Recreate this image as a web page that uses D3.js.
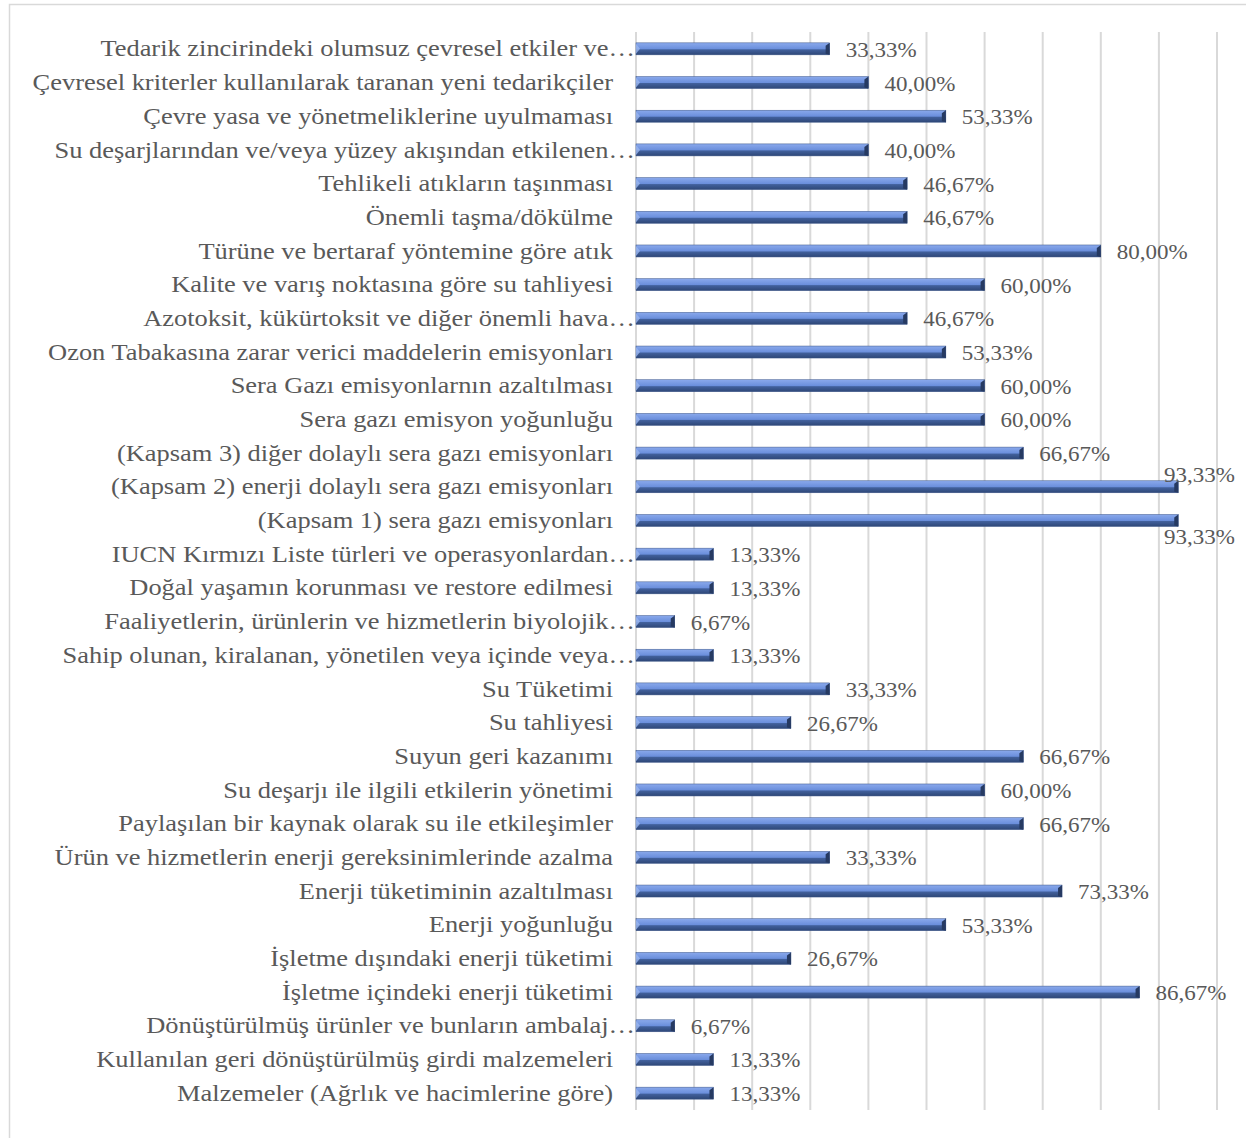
<!DOCTYPE html>
<html>
<head>
<meta charset="utf-8">
<script src="https://cdn.jsdelivr.net/npm/d3@7"></script>
<style>
  body { margin: 0; background: #fff; }
  text { font-family: "Liberation Serif", "Times New Roman", serif; fill: #595959; }
</style>
</head>
<body>
<div id="chart"></div>
<script>
const categories = [
  "Tedarik zincirindeki olumsuz çevresel etkiler ve…",
  "Çevresel kriterler kullanılarak taranan yeni tedarikçiler",
  "Çevre yasa ve yönetmeliklerine uyulmaması",
  "Su deşarjlarından ve/veya yüzey akışından etkilenen…",
  "Tehlikeli atıkların taşınması",
  "Önemli taşma/dökülme",
  "Türüne ve bertaraf yöntemine göre atık",
  "Kalite ve varış noktasına göre su tahliyesi",
  "Azotoksit, kükürtoksit ve diğer önemli hava…",
  "Ozon Tabakasına zarar verici maddelerin emisyonları",
  "Sera Gazı emisyonlarnın azaltılması",
  "Sera gazı emisyon yoğunluğu",
  "(Kapsam 3) diğer dolaylı sera gazı emisyonları",
  "(Kapsam 2) enerji dolaylı sera gazı emisyonları",
  "(Kapsam 1) sera gazı emisyonları",
  "IUCN Kırmızı Liste türleri ve operasyonlardan…",
  "Doğal yaşamın korunması ve restore edilmesi",
  "Faaliyetlerin, ürünlerin ve hizmetlerin biyolojik…",
  "Sahip olunan, kiralanan, yönetilen veya içinde veya…",
  "Su Tüketimi",
  "Su tahliyesi",
  "Suyun geri kazanımı",
  "Su deşarjı ile ilgili etkilerin yönetimi",
  "Paylaşılan bir kaynak olarak su ile etkileşimler",
  "Ürün ve hizmetlerin enerji gereksinimlerinde azalma",
  "Enerji tüketiminin azaltılması",
  "Enerji yoğunluğu",
  "İşletme dışındaki enerji tüketimi",
  "İşletme içindeki enerji tüketimi",
  "Dönüştürülmüş ürünler ve bunların ambalaj…",
  "Kullanılan geri dönüştürülmüş girdi malzemeleri",
  "Malzemeler (Ağrlık ve hacimlerine göre)"
];

const values = [
  33.33, 40.00, 53.33, 40.00, 46.67, 46.67, 80.00, 60.00, 46.67, 53.33,
  60.00, 60.00, 66.67, 93.33, 93.33, 13.33, 13.33, 6.67, 13.33, 33.33,
  26.67, 66.67, 60.00, 66.67, 33.33, 73.33, 53.33, 26.67, 86.67, 6.67,
  13.33, 13.33
];

const gridTicks = [0, 10, 20, 30, 40, 50, 60, 70, 80, 90, 100];

const width = 1246, height = 1138;
const plotLeft = 636, plotRight = 1217, plotTop = 32, plotBottom = 1110;
const stretch = 1.15; // text in the original is a bit wide

const svg = d3.select("#chart").append("svg")
  .attr("width", width)
  .attr("height", height);

// bar gradient (3D cylinder look)
const defs = svg.append("defs");
const grad = defs.append("linearGradient")
  .attr("id", "barGrad")
  .attr("x1", 0).attr("y1", 0).attr("x2", 0).attr("y2", 1);
grad.append("stop").attr("offset", "0%").attr("stop-color", "#8aa9ec");
grad.append("stop").attr("offset", "50%").attr("stop-color", "#6b8fdc");
grad.append("stop").attr("offset", "58%").attr("stop-color", "#41609c");
grad.append("stop").attr("offset", "100%").attr("stop-color", "#2e4777");

// chart border
svg.append("path")
  .attr("d", `M9.5,${height} L9.5,4.5 L${width},4.5`)
  .attr("fill", "none")
  .attr("stroke", "#d9d9d9")
  .attr("stroke-width", 1.5);

const x = d3.scaleLinear().domain([0, 100]).range([plotLeft, plotRight]);
const y = d3.scaleBand().domain(categories).range([plotTop, plotBottom]);

// gridlines
svg.append("g")
  .selectAll("line")
  .data(gridTicks)
  .join("line")
  .attr("x1", d => x(d)).attr("x2", d => x(d))
  .attr("y1", plotTop).attr("y2", plotBottom)
  .attr("stroke", "#d9d9d9")
  .attr("stroke-width", 2);

// category labels (truncated ones run up to the axis)
svg.append("g")
  .selectAll("text")
  .data(categories)
  .join("text")
  .attr("transform", d => {
    const xr = d.endsWith("…") ? plotLeft - 1 : plotLeft - 23;
    return `translate(${xr},${y(d) + y.bandwidth() / 2}) scale(${stretch},1)`;
  })
  .attr("dy", "0.33em")
  .attr("text-anchor", "end")
  .attr("font-size", 23)
  .text(d => d);

const barH = 12;
const rows = categories.map((c, i) => ({ cat: c, v: values[i] }));

const bars = svg.append("g")
  .selectAll("g")
  .data(rows)
  .join("g")
  .attr("transform", d => `translate(0,${y(d.cat) + y.bandwidth() / 2 - barH / 2})`);

bars.append("rect")
  .attr("x", x(0))
  .attr("y", 0)
  .attr("width", d => x(d.v) - x(0))
  .attr("height", barH)
  .attr("fill", "url(#barGrad)")
  .attr("stroke", "#3b5587")
  .attr("stroke-width", 0.5);

// end cap bevel
bars.append("path")
  .attr("d", d => {
    const xe = x(d.v);
    return `M${xe - 4},${barH / 2 - 3} L${xe},0 L${xe},${barH} L${xe - 4},${barH - 1} Z`;
  })
  .attr("fill", "#263a62");

// start bevel
bars.append("path")
  .attr("d", `M${x(0)},1 L${x(0) + 4},${barH / 2} L${x(0)},${barH - 1} Z`)
  .attr("fill", "#9bb6ef")
  .attr("opacity", 0.8);

// value labels
const fmt = v => v.toFixed(2).replace(".", ",") + "%";
let crowded = 0;
svg.append("g")
  .selectAll("text")
  .data(rows)
  .join("text")
  .each(function(d) {
    const cy = y(d.cat) + y.bandwidth() / 2;
    const t = d3.select(this).attr("font-size", 20).text(fmt(d.v));
    if (x(d.v) + 17 + 72 > width) {
      // labels that don't fit get pushed above / below the bar
      t.attr("transform", `translate(${width - 11},${crowded === 0 ? cy - 12 : cy + 17}) scale(${stretch},1)`)
        .attr("text-anchor", "end")
        .attr("dy", "0.35em");
      crowded++;
    } else {
      t.attr("transform", `translate(${x(d.v) + 16},${cy}) scale(${stretch},1)`)
        .attr("dy", "0.4em");
    }
  });
</script>
</body>
</html>
